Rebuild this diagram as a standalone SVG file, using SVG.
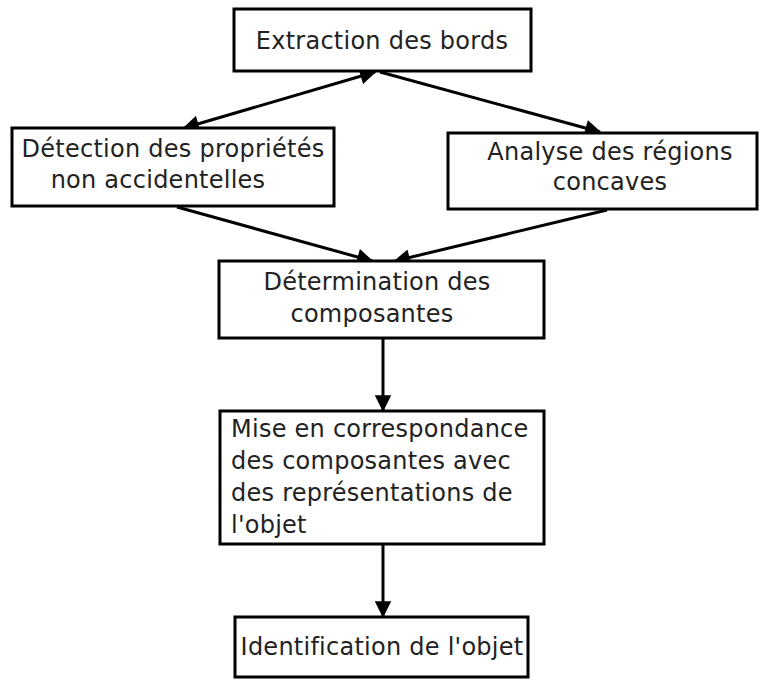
<svg xmlns="http://www.w3.org/2000/svg" width="760" height="680" viewBox="0 0 760 680">
<style>
.box{fill:#fff;stroke:#000;stroke-width:3}
.t{font-family:"DejaVu Sans",sans-serif;font-size:24px;letter-spacing:0.25px;fill:#222}
.c{text-anchor:middle}
.e{stroke:#000;stroke-width:3;fill:none}
</style>
<defs>
<marker id="ah" viewBox="0 0 10 10" refX="9" refY="5" markerWidth="6" markerHeight="5.5" markerUnits="strokeWidth" orient="auto-start-reverse">
<path d="M0,0 L10,5 L0,10 z" fill="#000"/>
</marker>
</defs>
<rect width="760" height="680" fill="#fff"/>
<g id="connectors">
<line class="e" x1="375" y1="72" x2="184" y2="128" marker-start="url(#ah)" marker-end="url(#ah)"/>
<line class="e" x1="380" y1="72" x2="600" y2="132" marker-end="url(#ah)"/>
<line class="e" x1="177" y1="207" x2="372" y2="261" marker-end="url(#ah)"/>
<line class="e" x1="607" y1="210" x2="395" y2="261" marker-end="url(#ah)"/>
<line class="e" x1="383" y1="339" x2="383" y2="410" marker-end="url(#ah)"/>
<line class="e" x1="383" y1="545" x2="383" y2="616" marker-end="url(#ah)"/>
</g>
<g id="n1">
<rect class="box" x="234" y="9" width="297" height="62"/>
<text class="t c" x="382" y="49">Extraction des bords</text>
</g>
<g id="n2">
<rect class="box" x="12" y="128" width="322" height="78"/>
<text class="t c" x="173" y="157">Détection des propriétés</text>
<text class="t c" x="158" y="188">non accidentelles</text>
</g>
<g id="n3">
<rect class="box" x="448" y="133" width="309" height="76"/>
<text class="t c" x="610" y="160">Analyse des régions</text>
<text class="t c" x="610" y="190">concaves</text>
</g>
<g id="n4">
<rect class="box" x="219" y="261" width="325" height="77"/>
<text class="t c" x="377" y="290">Détermination des</text>
<text class="t c" x="372" y="322">composantes</text>
</g>
<g id="n5">
<rect class="box" x="220" y="411" width="324" height="133"/>
<text class="t" x="231" y="437">Mise en correspondance</text>
<text class="t" x="231" y="469">des composantes avec</text>
<text class="t" x="231" y="501">des représentations de</text>
<text class="t" x="231" y="533">l'objet</text>
</g>
<g id="n6">
<rect class="box" x="235" y="617" width="293" height="60"/>
<text class="t c" x="382" y="655">Identification de l'objet</text>
</g>
</svg>
